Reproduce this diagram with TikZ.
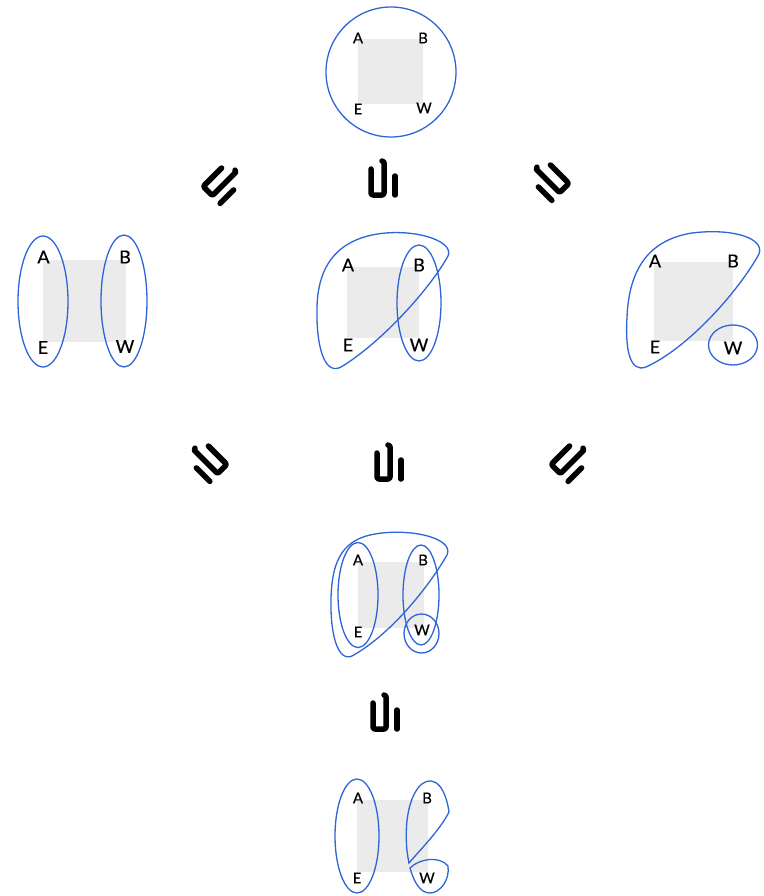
\documentclass[tikz,border=0pt]{standalone}
\usepackage{fontspec}
\setmainfont{Lato}
\newfontfamily\labfont[FakeBold=0.35]{Lato}
\definecolor{blu}{RGB}{45,100,215}
\definecolor{sq}{RGB}{235,235,235}
\tikzset{
  ring/.style={draw=blu, line width=1.3pt},
  lab/.style={inner sep=0pt, font=\labfont\fontsize{15}{15}\selectfont},
  labbig/.style={inner sep=0pt, font=\labfont\fontsize{18}{18}\selectfont},
  subsym/.pic={
    \draw[line width=5.5pt, line cap=round, line join=round, rounded corners=2pt]
      (-13,-11) -- (-13,15) -- (0,15) -- (0,-15) .. controls (0,-18) .. (-2,-19);
    \draw[line width=5.5pt, line cap=round] (11,-4) -- (11,15);
  }
}
\begin{document}
\begin{tikzpicture}[x=1pt,y=-1pt]
\useasboundingbox (0,0) rectangle (763,896);

% ---------- top ----------
\fill[sq] (358,39) rectangle (423,104);
\draw[ring] (391,72) circle (65pt);
\node[lab] (tA) at (358,38) {A};
\node[lab] (tB) at (423,38) {B};
\node[lab] (tE) at (358,109) {E};
\node[lab] (tW) at (424,108) {W};

% ---------- symbols row 1 ----------
\pic[rotate=-45] at (223,185) {subsym};
\pic at (384,180) {subsym};
\pic[rotate=45,xscale=-1] at (549,182) {subsym};

% ---------- row 2 left ----------
\fill[sq] (43,260) rectangle (126,342);
\draw[ring] (43,301.5) ellipse [x radius=25pt, y radius=65.5pt];
\draw[ring] (124,301) ellipse [x radius=23pt, y radius=66pt];
\node[labbig] (lA) at (43.5,257) {A};
\node[labbig] (lB) at (125,257) {B};
\node[labbig] (lE) at (43,347.5) {E};
\node[labbig] (lW) at (125,346.5) {W};

% ---------- row 2 middle ----------
\fill[sq] (347,267) rectangle (419,338);
\draw[ring] (419,303) ellipse [x radius=22pt, y radius=58pt];
\draw[ring] (448,256) .. controls (428,292) and (378,345) .. (341,367)
  .. controls (324,376) and (316,345) .. (317,307)
  .. controls (318,268) and (335,243) .. (372,235)
  .. controls (410,227) and (455,240) .. (448,256) -- cycle;
\node[labbig] (mA) at (348,265) {A};
\node[labbig] (mB) at (419,265) {B};
\node[labbig] (mE) at (348,345) {E};
\node[labbig] (mW) at (419,345) {W};

% ---------- row 2 right ----------
\fill[sq] (654,262) rectangle (733,341);
\draw[ring] (733,345) ellipse [x radius=24.5pt, y radius=20pt];
\draw[ring] (759,254) .. controls (738,292) and (688,348) .. (646,367)
  .. controls (630,373) and (625,350) .. (627,317)
  .. controls (629,270) and (648,240) .. (692,233)
  .. controls (732,228) and (765,238) .. (759,254) -- cycle;
\node[labbig] (rA) at (655,261) {A};
\node[labbig] (rB) at (733,261) {B};
\node[labbig] (rE) at (655,347) {E};
\node[labbig] (rW) at (733,348) {W};

% ---------- symbols row 2 ----------
\pic[rotate=45,xscale=-1] at (207,463) {subsym};
\pic at (390,464) {subsym};
\pic[rotate=-45] at (571,463) {subsym};

% ---------- row 3 ----------
\fill[sq] (358,562) rectangle (424,628);
\draw[ring] (358,595) ellipse [x radius=20pt, y radius=52.5pt];
\draw[ring] (421,595) ellipse [x radius=18pt, y radius=50pt];
\draw[ring] (421.5,633.5) ellipse [x radius=17.5pt, y radius=19.5pt];
\draw[ring] (447,555) .. controls (428,588) and (390,635) .. (352,656)
  .. controls (338,662) and (330,635) .. (331,598)
  .. controls (332,565) and (340,542) .. (370,535)
  .. controls (405,527) and (455,537) .. (447,555) -- cycle;
\node[lab] (cA) at (358,560) {A};
\node[lab] (cB) at (423,560) {B};
\node[lab] (cE) at (358,632) {E};
\node[lab] (cW) at (422,630) {W};

% ---------- symbol row 3 ----------
\pic at (386,714) {subsym};

% ---------- row 4 ----------
\fill[sq] (357,800) rectangle (428,872);
\draw[ring] (357,836) ellipse [x radius=22pt, y radius=57pt];
\draw[ring] (449,812) .. controls (440,830) and (420,850) .. (409,863)
  .. controls (404,840) and (405,805) .. (418,788)
  .. controls (428,775) and (444,778) .. (449,812) -- cycle;
\draw[ring] (410,868) .. controls (420,858) and (440,856) .. (448,866)
  .. controls (450,880) and (440,893) .. (430,893)
  .. controls (420,893) and (414,882) .. (410,868) -- cycle;
\node[lab] (bA) at (358,798) {A};
\node[lab] (bB) at (427,798) {B};
\node[lab] (bE) at (357,878) {E};
\node[lab] (bW) at (427,878) {W};
\end{tikzpicture}
\end{document}
